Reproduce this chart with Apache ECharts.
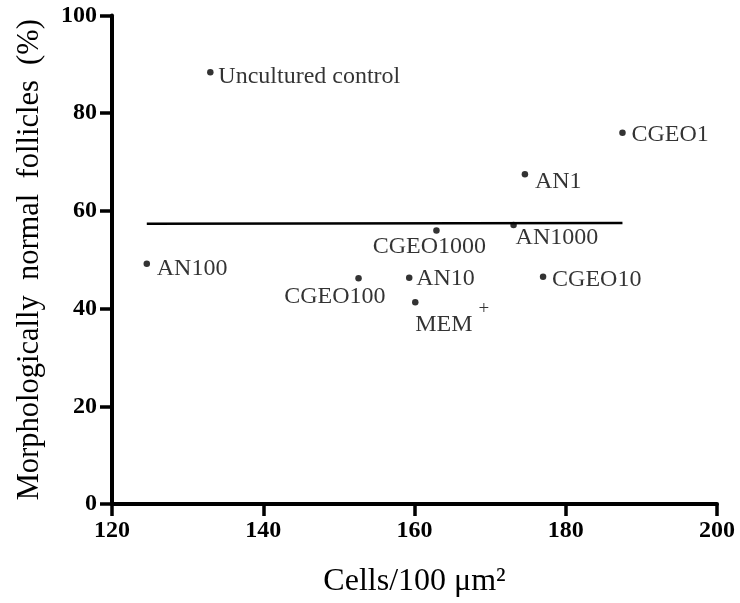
<!DOCTYPE html>
<html>
<head>
<meta charset="utf-8">
<title>Follicles vs cells</title>
<script src="https://cdn.jsdelivr.net/npm/echarts@6/dist/echarts.min.js"></script>
<style>
  html, body { margin: 0; padding: 0; background: #fff; }
  #main { width: 740px; height: 603px; }
</style>
</head>
<body>
<div id="main"></div>
<script>
// groups and their values
var groupNames = ['Uncultured control', 'CGEO1', 'AN1', 'AN1000', 'CGEO1000', 'AN100', 'CGEO100', 'AN10', 'CGEO10', 'MEM+'];
var cellDensity = [133.0, 187.5, 174.6, 173.1, 162.9, 124.6, 152.6, 159.3, 177.0, 160.1];
var normalFollicles = [88.4, 76.0, 67.5, 57.1, 56.0, 49.2, 46.2, 46.3, 46.5, 41.3];
var xTicks = [120, 140, 160, 180, 200];
var yTicks = [0, 20, 40, 60, 80, 100];

var serif = '"Liberation Serif", "Times New Roman", serif';

// where each label sits relative to its dot
var labelPlace = {
	'Uncultured control': { align: 'left', offset: [8, 5] },
	'CGEO1': { align: 'left', offset: [9, 2] },
	'AN1': { align: 'left', offset: [10, 7] },
	'AN1000': { align: 'left', offset: [2, 13] },
	'CGEO1000': { align: 'center', offset: [-7, 16] },
	'AN100': { align: 'left', offset: [10, 5] },
	'CGEO100': { align: 'right', offset: [27, 18] },
	'AN10': { align: 'left', offset: [7, 1] },
	'CGEO10': { align: 'left', offset: [9, 3] },
	'MEM+': { align: 'left', offset: [0, 16] }
};

// least squares line through the points
function fitLine(xs, ys) {
	var n = xs.length, mx = 0, my = 0, sxy = 0, sxx = 0;
	for (var i = 0; i < n; i++) { mx += xs[i]; my += ys[i]; }
	mx /= n; my /= n;
	for (var j = 0; j < n; j++) {
		sxy += (xs[j] - mx) * (ys[j] - my);
		sxx += (xs[j] - mx) * (xs[j] - mx);
	}
	var b = sxy / sxx;
	return function (x) { return my + b * (x - mx); };
}

var fit = fitLine(cellDensity, normalFollicles);
var xLo = Math.min.apply(null, cellDensity);
var xHi = Math.max.apply(null, cellDensity);

var points = groupNames.map(function (n, i) {
	var p = labelPlace[n];
	return {
		name: n,
		value: [cellDensity[i], normalFollicles[i]],
		label: { align: p.align, offset: p.offset }
	};
});

var chart = echarts.init(document.getElementById('main'));
chart.setOption({
	animation: false,
	backgroundColor: '#fff',
	grid: { left: 112, right: 23, top: 15.5, bottom: 93, containLabel: false },
	xAxis: {
		type: 'value',
		min: xTicks[0],
		max: xTicks[xTicks.length - 1],
		interval: xTicks[1] - xTicks[0],
		name: 'Cells/100 μm²',
		nameLocation: 'middle',
		nameGap: 62,
		nameTextStyle: { fontFamily: serif, fontSize: 32, color: '#000' },
		axisLine: { lineStyle: { color: '#000', width: 4 } },
		axisTick: { length: 12, lineStyle: { color: '#000', width: 3.5 } },
		axisLabel: { margin: 15, fontFamily: serif, fontSize: 24, fontWeight: 'bold', color: '#000' },
		splitLine: { show: false }
	},
	yAxis: {
		type: 'value',
		min: yTicks[0],
		max: yTicks[yTicks.length - 1],
		interval: yTicks[1] - yTicks[0],
		name: 'Morphologically  normal  follicles  (%)',
		nameLocation: 'middle',
		nameGap: 67,
		nameTextStyle: { fontFamily: serif, fontSize: 30.5, color: '#000' },
		axisLine: { lineStyle: { color: '#000', width: 4 } },
		axisTick: { length: 12, lineStyle: { color: '#000', width: 3.5 } },
		axisLabel: { margin: 15, fontFamily: serif, fontSize: 24, fontWeight: 'bold', color: '#000' },
		splitLine: { show: false }
	},
	series: [
		{
			type: 'line',
			data: [[xLo, fit(xLo)], [xHi, fit(xHi)]],
			showSymbol: false,
			silent: true,
			lineStyle: { color: '#000', width: 2.5 }
		},
		{
			type: 'scatter',
			symbol: 'circle',
			symbolSize: 6.5,
			itemStyle: { color: '#000' },
			data: points,
			label: {
				show: true,
				position: 'inside',
				verticalAlign: 'middle',
				fontFamily: serif,
				fontSize: 24,
				color: '#000',
				formatter: function (p) {
					if (p.name === 'MEM+') return '{m|MEM }{sup|+}';
					return p.name;
				},
				rich: {
					m: { fontFamily: serif, fontSize: 24, color: '#000', verticalAlign: 'bottom' },
					sup: { fontFamily: serif, fontSize: 19, color: '#000', verticalAlign: 'bottom', padding: [0, 0, 18, 0] }
				}
			}
		}
	]
});
</script>
</body>
</html>
